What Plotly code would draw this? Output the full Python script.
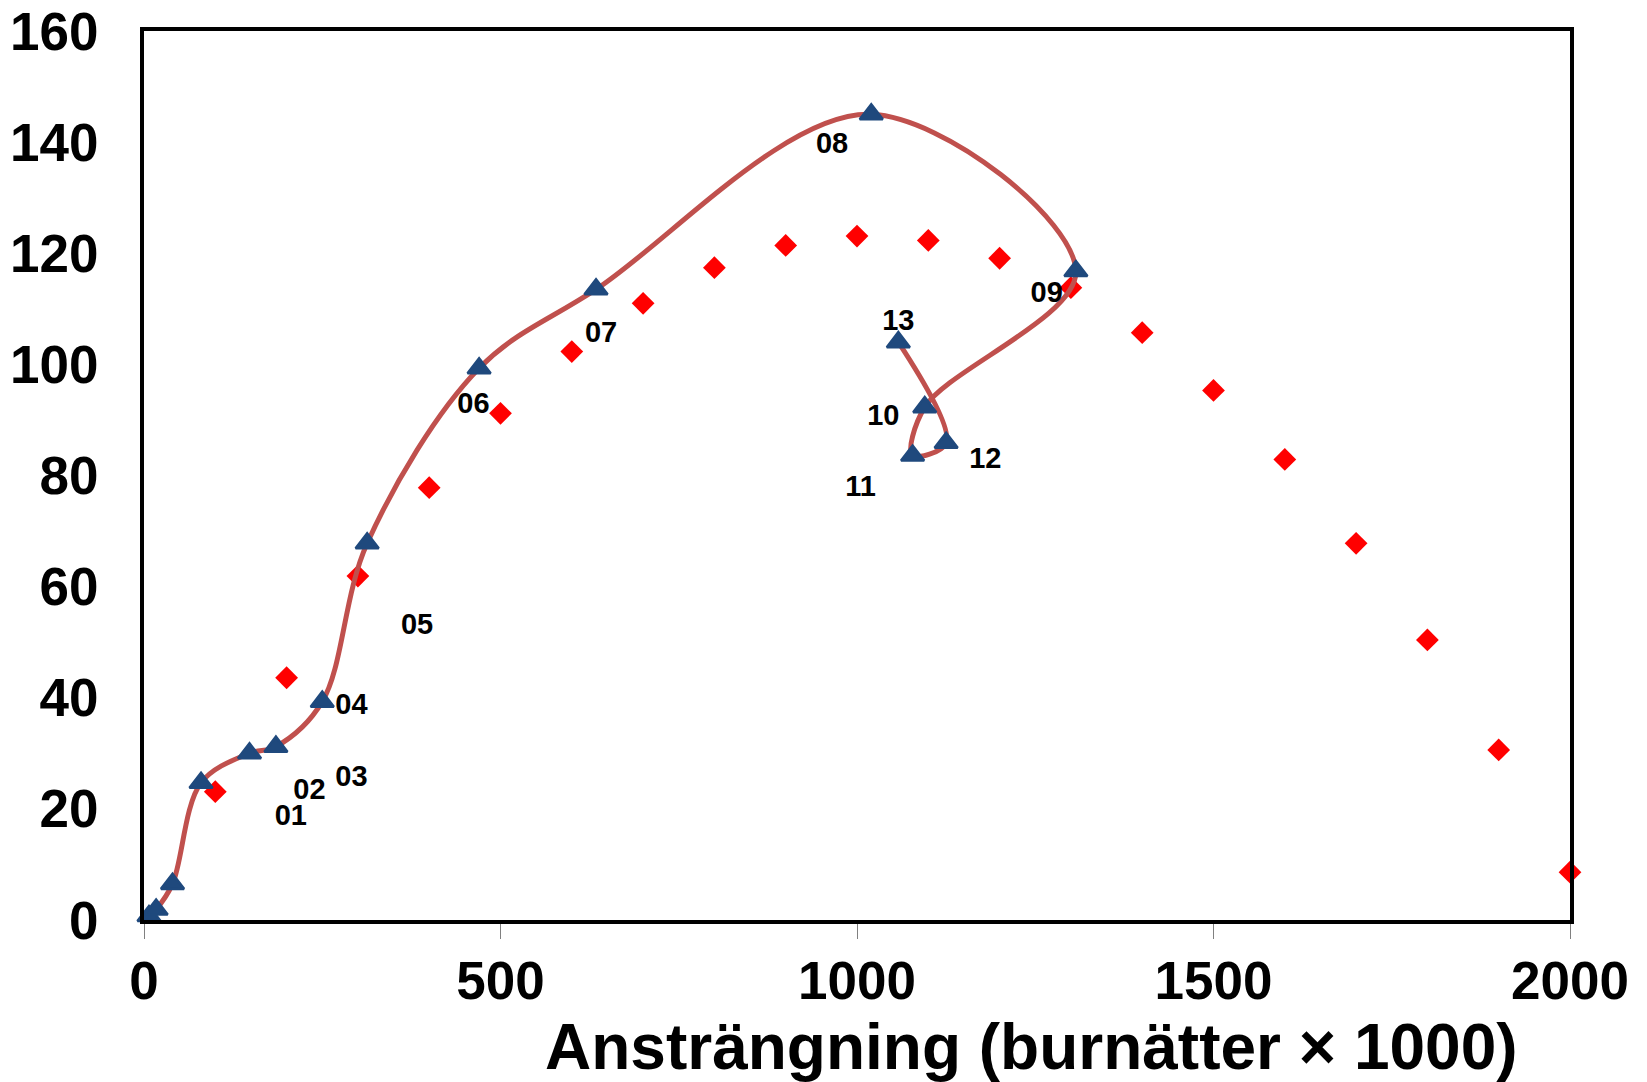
import plotly.graph_objects as go

# Red diamonds (reference series)
diamond_x = [100, 200, 300, 400, 500, 600, 700, 800, 900, 1000,
             1100, 1200, 1300, 1400, 1500, 1600, 1700, 1800, 1900, 2000]
diamond_y = [23.1, 43.6, 61.9, 77.8, 91.2, 102.3, 111.0, 117.4, 121.4, 123.1,
             122.3, 119.1, 113.8, 105.7, 95.3, 82.9, 67.8, 50.4, 30.6, 8.6]

# Blue triangles joined by smoothed line (in order)
tri_x = [7, 17, 40, 80, 148, 185, 250, 313, 470, 634, 1020, 1307, 1095, 1078, 1125, 1058]
tri_y = [0.7, 1.9, 6.5, 24.7, 30.0, 31.2, 39.3, 67.8, 99.3, 113.5, 145.0, 116.8, 92.3, 83.6, 85.9, 104.0]

# Point labels
label_text = ["01", "02", "03", "04", "05", "06", "07", "08", "09", "10", "11", "12", "13"]
label_x = [206, 232, 291, 291, 383, 462, 641, 965, 1266, 1037, 1005, 1180, 1058]
label_y = [18.4, 23.1, 25.4, 38.4, 52.7, 92.6, 105.3, 139.4, 112.6, 90.4, 77.7, 82.6, 107.5]

x_ticks = [0, 500, 1000, 1500, 2000]
y_ticks = [0, 20, 40, 60, 80, 100, 120, 140, 160]
x_title = "Ansträngning (burnätter × 1000)"

FONT = "Liberation Sans, Arial, sans-serif"

fig = go.Figure()
fig.add_trace(go.Scatter(
    x=diamond_x, y=diamond_y, mode="markers",
    marker=dict(symbol="diamond", size=17.5, color="#FF0000"),
    cliponaxis=False, showlegend=False, hoverinfo="skip"))
fig.add_trace(go.Scatter(
    x=tri_x, y=tri_y, mode="lines+markers",
    line=dict(shape="spline", smoothing=1.0, color="#C0504D", width=5),
    marker=dict(symbol="triangle-up", size=20, color="#1F497D",
                line=dict(color="#1F497D", width=2.5)),
    cliponaxis=False, showlegend=False, hoverinfo="skip"))
fig.add_trace(go.Scatter(
    x=label_x, y=label_y, mode="text", text=label_text,
    textfont=dict(family=FONT, size=29, color="black", weight="bold"),
    cliponaxis=False, showlegend=False, hoverinfo="skip"))

fig.update_layout(
    width=1647, height=1082,
    margin=dict(l=144, r=77, t=31, b=162, autoexpand=False),
    paper_bgcolor="white", plot_bgcolor="white",
    font=dict(family=FONT, color="black"),
    xaxis=dict(range=[0, 2000], tickvals=x_ticks, ticktext=[str(v) for v in x_ticks],
               automargin=False,
               showgrid=False, zeroline=False,
               showline=True, linecolor="black", linewidth=4, mirror=True,
               ticks="outside", ticklen=15, tickwidth=1, tickcolor="#808080",
               ticklabelstandoff=-4, ticklabeloverflow="allow",
               tickfont=dict(family=FONT, size=53, color="black", weight="bold")),
    yaxis=dict(range=[0, 160], tickvals=y_ticks, ticktext=[str(v) for v in y_ticks],
               automargin=False,
               showgrid=False, zeroline=False,
               showline=True, linecolor="black", linewidth=4, mirror=True,
               ticks="", ticklabelstandoff=31, ticklabeloverflow="allow",
               tickfont=dict(family=FONT, size=53, color="black", weight="bold")),
    annotations=[dict(text=x_title, xref="paper", yref="paper",
                      x=0.6227, y=-0.1426, xanchor="center", yanchor="middle",
                      showarrow=False,
                      font=dict(family=FONT, size=64, color="black", weight="bold"))],
)

fig.write_html("out.html",
               config={"displayModeBar": False},
               post_script="document.body.style.margin='0';document.body.style.overflow='hidden';")
